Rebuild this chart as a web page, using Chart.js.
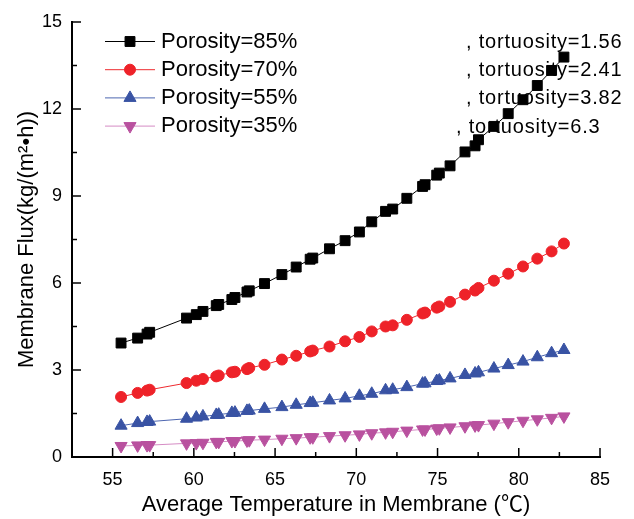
<!DOCTYPE html>
<html>
<head>
<meta charset="utf-8">
<script src="https://cdn.jsdelivr.net/npm/chart.js@4.4.1/dist/chart.umd.min.js"></script>
<style>
  html, body { margin: 0; padding: 0; background: #fff; }
  #wrap { width: 634px; height: 519px; }
</style>
</head>
<body>
<div id="wrap"><canvas id="c" width="634" height="519"></canvas></div>
<script>
// Average membrane temperature (°C), shared by all four series
const temperature = [
  55.52, 56.54, 57.12, 57.28, 59.55, 60.15, 60.56, 61.38, 61.53, 62.34,
  62.53, 63.27, 63.41, 64.35, 65.42, 66.30, 67.16, 67.32, 68.35, 69.31,
  70.19, 70.95, 71.80, 72.24, 73.11, 74.08, 74.23, 74.95, 75.11, 75.77,
  76.69, 77.31, 77.52, 78.47, 79.35, 80.26, 81.14, 82.02, 82.78
];

// Membrane flux, kg/(m²·h)
const flux85 = [
  3.93, 4.10, 4.24, 4.30, 4.79, 4.91, 5.02, 5.22, 5.26, 5.43,
  5.50, 5.69, 5.73, 5.98, 6.29, 6.55, 6.82, 6.86, 7.18, 7.46,
  7.76, 8.11, 8.47, 8.55, 8.92, 9.33, 9.39, 9.72, 9.79, 10.04,
  10.52, 10.73, 10.94, 11.40, 11.84, 12.32, 12.81, 13.33, 13.79
];
const flux70 = [
  2.07, 2.21, 2.29, 2.32, 2.55, 2.63, 2.69, 2.78, 2.81, 2.92,
  2.94, 3.03, 3.07, 3.18, 3.36, 3.49, 3.64, 3.67, 3.81, 3.99,
  4.14, 4.33, 4.50, 4.54, 4.73, 4.95, 4.98, 5.15, 5.19, 5.35,
  5.60, 5.74, 5.83, 6.08, 6.32, 6.57, 6.84, 7.09, 7.36
];
const flux55 = [
  1.08, 1.17, 1.21, 1.22, 1.32, 1.36, 1.40, 1.45, 1.46, 1.52,
  1.53, 1.59, 1.60, 1.66, 1.72, 1.80, 1.86, 1.87, 1.95, 2.02,
  2.11, 2.18, 2.30, 2.32, 2.41, 2.53, 2.54, 2.62, 2.64, 2.71,
  2.83, 2.88, 2.92, 3.05, 3.17, 3.29, 3.44, 3.58, 3.69
];
const flux35 = [
  0.38, 0.40, 0.41, 0.41, 0.47, 0.48, 0.49, 0.52, 0.52, 0.55,
  0.55, 0.57, 0.58, 0.60, 0.63, 0.65, 0.68, 0.68, 0.72, 0.75,
  0.78, 0.82, 0.85, 0.87, 0.91, 0.95, 0.95, 0.98, 0.99, 1.02,
  1.06, 1.09, 1.10, 1.15, 1.20, 1.25, 1.30, 1.35, 1.40
];

const porosityLabels = ['Porosity=85%', 'Porosity=70%', 'Porosity=55%', 'Porosity=35%'];
const tortuosityLabels = [', tortuosity=1.56', ', tortuosity=2.41', ', tortuosity=3.82', ', tortuosity=6.3'];

const xTickValues = [55, 60, 65, 70, 75, 80, 85];
const yTickValues = [0, 3, 6, 9, 12, 15];

const xTitle = 'Average Temperature in Membrane (\u2103)';
const yTitle = 'Membrane Flux(kg/(m\u00B2\u2022h))';

const FONT = "'Liberation Sans', Arial, 'Noto Sans CJK JP', sans-serif";

function points(ys) {
  return temperature.map((t, i) => ({ x: t, y: ys[i] }));
}

function series(label, ys, lineColor, markColor, style, radius, rotation) {
  return {
    label: label,
    data: points(ys),
    showLine: true,
    borderColor: lineColor,
    borderWidth: 1,
    backgroundColor: markColor,
    pointBackgroundColor: markColor,
    pointBorderColor: markColor,
    pointBorderWidth: 1,
    pointStyle: style,
    pointRadius: radius,
    pointRotation: rotation,
    tension: 0
  };
}

const datasets = [
  series(porosityLabels[0], flux85, '#000000', '#000000', 'rect', 7, 0),
  series(porosityLabels[1], flux70, '#ee2a2f', '#ee2229', 'circle', 5.5, 0),
  series(porosityLabels[2], flux55, '#4d66b0', '#3953a4', 'triangle', 7, 0),
  series(porosityLabels[3], flux35, '#d58cc4', '#b9519f', 'triangle', 7, 180)
];

// Inward-pointing major and minor ticks on both axes
const innerTicks = {
  id: 'innerTicks',
  afterDraw(chart) {
    const { ctx, chartArea: a, scales: { x, y } } = chart;
    ctx.save();
    ctx.strokeStyle = '#000';
    ctx.lineWidth = 1.5;
    const seg = (x1, y1, x2, y2) => {
      ctx.beginPath(); ctx.moveTo(x1, y1); ctx.lineTo(x2, y2); ctx.stroke();
    };
    const xt = x.ticks.map(t => t.value);
    xt.forEach((v, i) => {
      const px = x.getPixelForValue(v);
      seg(px, a.bottom, px, a.bottom - 9);
      if (i < xt.length - 1) {
        const pm = x.getPixelForValue((v + xt[i + 1]) / 2);
        seg(pm, a.bottom, pm, a.bottom - 5);
      }
    });
    const yt = y.ticks.map(t => t.value);
    yt.forEach((v, i) => {
      const py = y.getPixelForValue(v);
      seg(a.left, py, a.left + 9, py);
      if (i < yt.length - 1) {
        const pm = y.getPixelForValue((v + yt[i + 1]) / 2);
        seg(a.left, pm, a.left + 5, pm);
      }
    });
    ctx.restore();
  }
};

// Legend: line with centred marker, porosity label, tortuosity note
const seriesLegend = {
  id: 'seriesLegend',
  afterDraw(chart, args, opts) {
    const { ctx } = chart;
    ctx.save();
    chart.data.datasets.forEach((ds, i) => {
      const yRow = opts.top + i * opts.rowGap;
      ctx.strokeStyle = ds.borderColor;
      ctx.lineWidth = 1;
      ctx.beginPath();
      ctx.moveTo(opts.lineStart, yRow);
      ctx.lineTo(opts.lineEnd, yRow);
      ctx.stroke();
      ctx.fillStyle = ds.pointBackgroundColor;
      ctx.strokeStyle = ds.pointBorderColor;
      Chart.helpers.drawPoint(ctx, {
        pointStyle: ds.pointStyle,
        radius: ds.pointRadius,
        rotation: ds.pointRotation || 0,
        borderWidth: 1
      }, (opts.lineStart + opts.lineEnd) / 2, yRow);

      ctx.fillStyle = '#000';
      ctx.textBaseline = 'middle';
      ctx.textAlign = 'left';
      ctx.letterSpacing = '0px';
      ctx.font = '22px ' + FONT;
      ctx.fillText(porosityLabels[i], opts.textX, yRow);
      ctx.font = '20px ' + FONT;
      ctx.letterSpacing = '0.8px';
      ctx.fillText(tortuosityLabels[i], opts.noteX[i], yRow + 1);
    });
    ctx.restore();
  }
};

new Chart(document.getElementById('c'), {
  type: 'scatter',
  data: { datasets: datasets },
  options: {
    responsive: false,
    animation: false,
    devicePixelRatio: 1,
    layout: { padding: { top: 22, right: 34, left: 0, bottom: 0 } },
    plugins: {
      legend: { display: false },
      tooltip: { enabled: false },
      seriesLegend: {
        top: 41.5, rowGap: 28.2, lineStart: 105, lineEnd: 155, textX: 161,
        noteX: [466, 466, 466, 456]
      }
    },
    scales: {
      x: {
        type: 'linear',
        min: 52.5,
        max: 85,
        afterBuildTicks: s => { s.ticks = xTickValues.map(v => ({ value: v })); },
        afterFit: s => { s.height = 62; },
        grid: { display: false },
        border: { display: true, color: '#000', width: 2 },
        ticks: {
          color: '#000', padding: 4, maxRotation: 0, autoSkip: false,
          font: { family: FONT, size: 18 }
        },
        title: {
          display: true, text: xTitle, color: '#000',
          font: { family: FONT, size: 22 },
          padding: { top: 0, bottom: 1 }
        }
      },
      y: {
        type: 'linear',
        min: 0,
        max: 15,
        afterBuildTicks: s => { s.ticks = yTickValues.map(v => ({ value: v })); },
        afterFit: s => { s.width = 72; },
        grid: { display: false },
        border: { display: true, color: '#000', width: 2 },
        ticks: {
          color: '#000', padding: 2, autoSkip: false,
          font: { family: FONT, size: 18 }
        },
        title: {
          display: true, text: yTitle, color: '#000',
          font: { family: FONT, size: 22 },
          padding: { top: 14, bottom: 0 }
        }
      }
    }
  },
  plugins: [innerTicks, seriesLegend]
});
</script>
</body>
</html>
